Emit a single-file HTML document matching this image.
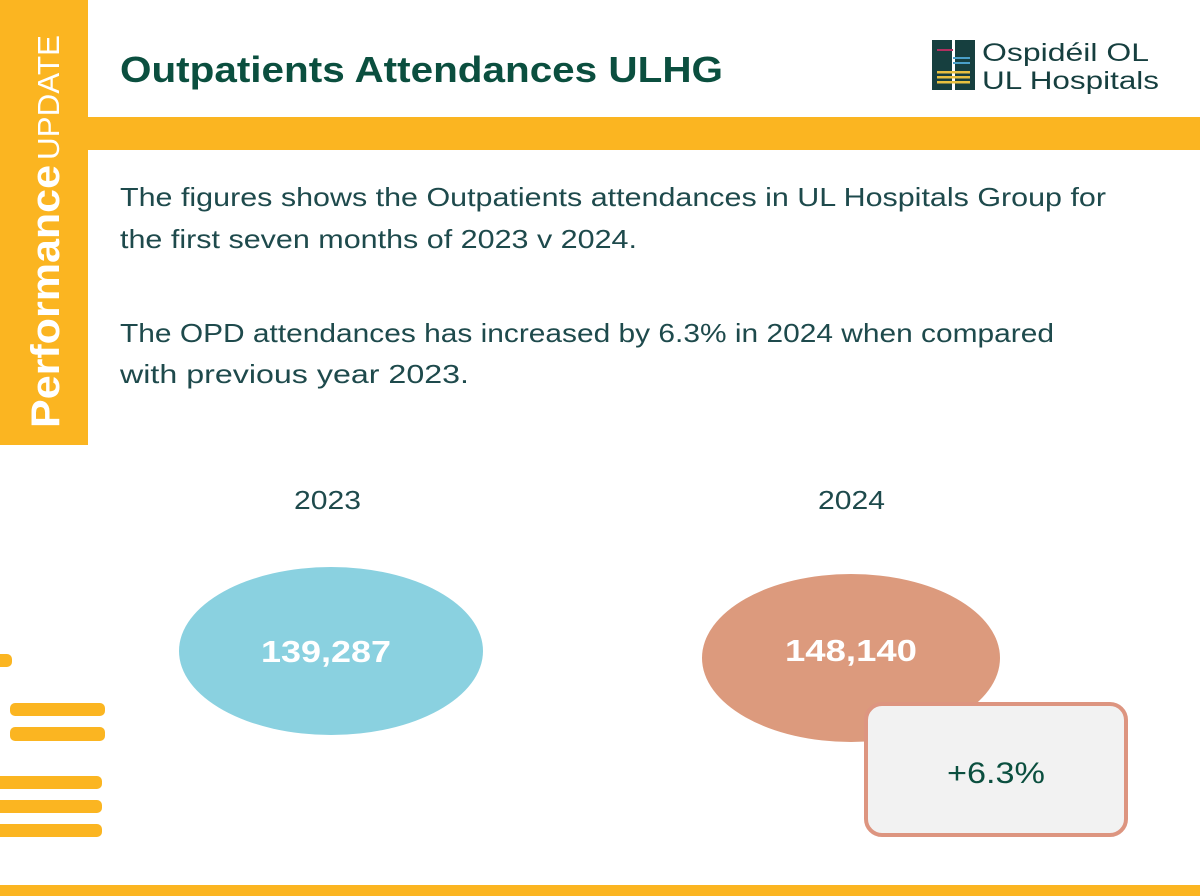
<!DOCTYPE html>
<html><head><meta charset="utf-8"><style>
html,body{margin:0;padding:0;background:#fff}
svg{display:block}
text{font-family:"Liberation Sans",sans-serif}
</style></head><body>
<svg width="1200" height="896" viewBox="0 0 1200 896" xmlns="http://www.w3.org/2000/svg">
<rect width="1200" height="896" fill="#fff"/>
<!-- left vertical bar -->
<rect x="0" y="0" width="88" height="445" fill="#fbb521"/>
<rect x="88" y="117" width="1112" height="33" fill="#fbb521"/>
<text transform="translate(59,428) rotate(-90)" font-size="40" font-weight="bold" fill="#fff" textLength="263" lengthAdjust="spacingAndGlyphs">Performance</text>
<text transform="translate(59,160) rotate(-90)" font-size="31" fill="#fff" textLength="125" lengthAdjust="spacingAndGlyphs">UPDATE</text>
<!-- title -->
<text x="120" y="82" font-size="36" font-weight="bold" fill="#0b4f3f" textLength="603" lengthAdjust="spacingAndGlyphs">Outpatients Attendances ULHG</text>
<!-- logo -->
<rect x="932" y="40" width="43" height="50" fill="#163f3f"/>
<rect x="952" y="40" width="3" height="50" fill="#fff"/>
<rect x="937" y="49" width="16" height="2" fill="#b03060"/>
<rect x="953" y="57" width="17" height="2" fill="#4aa0c8"/>
<rect x="953" y="62" width="17" height="2" fill="#4aa0c8"/>
<rect x="937" y="71" width="33" height="2.5" fill="#e8c040"/>
<rect x="937" y="76" width="33" height="2.5" fill="#e8c040"/>
<rect x="937" y="81" width="33" height="2.5" fill="#e8c040"/>
<text x="982" y="61" font-size="25" fill="#163f3f" textLength="167" lengthAdjust="spacingAndGlyphs">Ospidéil OL</text>
<text x="982" y="89" font-size="25" fill="#163f3f" textLength="177" lengthAdjust="spacingAndGlyphs">UL Hospitals</text>
<!-- body text -->
<g font-size="26" fill="#1e4a4c">
<text x="120" y="206" textLength="986" lengthAdjust="spacingAndGlyphs">The figures shows the Outpatients attendances in UL Hospitals Group for</text>
<text x="120" y="248" textLength="517" lengthAdjust="spacingAndGlyphs">the first seven months of 2023 v 2024.</text>
<text x="120" y="342" textLength="934" lengthAdjust="spacingAndGlyphs">The OPD attendances has increased by 6.3% in 2024 when compared</text>
<text x="120" y="383" textLength="349" lengthAdjust="spacingAndGlyphs">with previous year 2023.</text>
<text x="294" y="509" textLength="67" lengthAdjust="spacingAndGlyphs">2023</text>
<text x="818" y="509" textLength="67" lengthAdjust="spacingAndGlyphs">2024</text>
</g>
<!-- ellipses -->
<ellipse cx="331" cy="651" rx="152" ry="84" fill="#8ad1e0"/>
<text x="326" y="662" font-size="31" font-weight="bold" fill="#fff" text-anchor="middle" textLength="130" lengthAdjust="spacingAndGlyphs">139,287</text>
<ellipse cx="851" cy="658" rx="149" ry="84" fill="#dc9a7d"/>
<text x="851" y="661" font-size="31" font-weight="bold" fill="#fff" text-anchor="middle" textLength="132" lengthAdjust="spacingAndGlyphs">148,140</text>
<rect x="866" y="704" width="260" height="131" rx="16" fill="#f2f2f2" stroke="#dd9580" stroke-width="4"/>
<text x="996" y="783" font-size="30" fill="#0b4f3f" text-anchor="middle" textLength="98" lengthAdjust="spacingAndGlyphs">+6.3%</text>
<!-- decorative bars -->
<g fill="#fbb521">
<rect x="-6" y="654" width="18" height="13" rx="5"/>
<rect x="10" y="703" width="95" height="13" rx="5"/>
<rect x="10" y="727" width="95" height="14" rx="5"/>
<rect x="-6" y="776" width="108" height="13" rx="5"/>
<rect x="-6" y="800" width="108" height="13" rx="5"/>
<rect x="-6" y="824" width="108" height="13" rx="5"/>
</g>
<rect x="0" y="885" width="1200" height="11" fill="#fbb521"/>
</svg>
</body></html>
